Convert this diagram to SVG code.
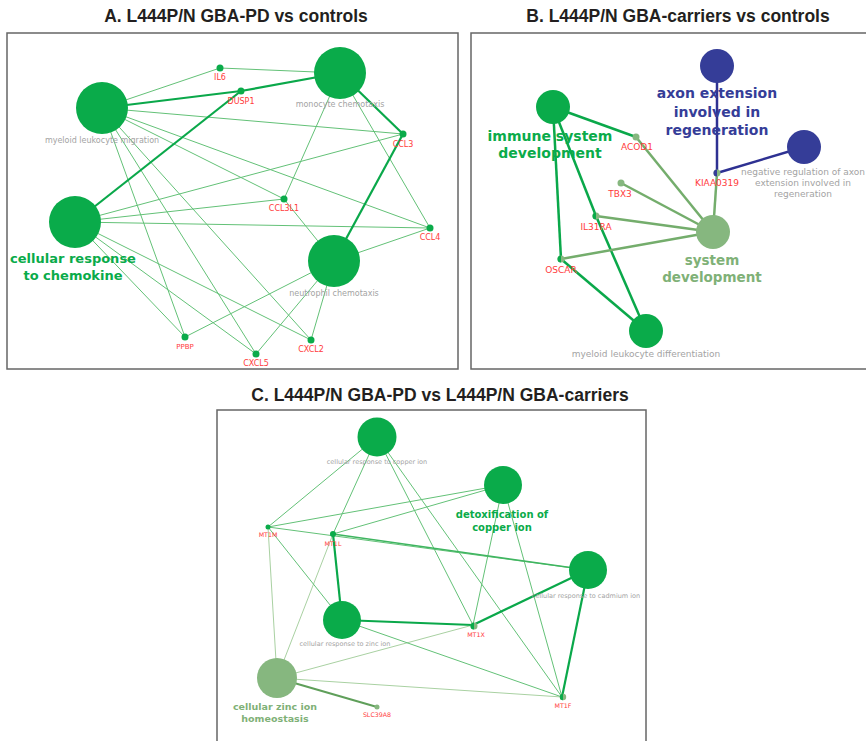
<svg xmlns="http://www.w3.org/2000/svg" width="866" height="741" viewBox="0 0 866 741">
<style>
.title{font-family:"Liberation Sans",Arial,sans-serif;font-weight:bold;font-size:17.5px;fill:#231f20;text-anchor:middle}
.box{fill:#fff;stroke:#666;stroke-width:1.5}
.t{stroke:#63c177;stroke-width:1;fill:none}
.k{stroke:#0aa84a;stroke-width:2.2;fill:none}
.m{stroke:#3fb560;stroke-width:1.5;fill:none}
.bd{stroke:#0aa84a;stroke-width:2.5;fill:none}
.bp{stroke:#74ad6c;stroke-width:2.5;fill:none}
.bn{stroke:#2e3192;stroke-width:2.5;fill:none}
.pl{stroke:#a9d1a2;stroke-width:1;fill:none}
.ps{stroke:#5f9f5a;stroke-width:2;fill:none}
.g{fill:#0aab4a}
.p{fill:#86b77f}
.n{fill:#353d98}
.lbl{font-family:"DejaVu Sans",Verdana,sans-serif;text-anchor:middle}
.gray{fill:#a3a3a3}
.red{fill:#ff3b3b}
.gt{fill:#0aab4a;font-weight:bold}
.pt{fill:#7fb177;font-weight:bold}
.nt{fill:#353d98;font-weight:bold}
</style>

<text class="title" x="236" y="22">A. L444P/N GBA-PD vs controls</text>
<text class="title" x="678" y="22">B. L444P/N GBA-carriers vs controls</text>
<text class="title" x="440" y="401">C. L444P/N GBA-PD vs L444P/N GBA-carriers</text>

<rect class="box" x="7" y="33" width="451" height="336"/>
<rect class="box" x="471" y="33" width="400" height="336"/>
<rect class="box" x="217" y="410" width="429" height="340"/>

<!-- Panel A connectors -->
<g id="edges-A">
<line class="t" x1="102" y1="108" x2="220" y2="68"/>
<line class="t" x1="340" y1="73" x2="220" y2="68"/>
<line class="t" x1="102" y1="108" x2="403" y2="134"/>
<line class="t" x1="75" y1="222" x2="403" y2="134"/>
<line class="t" x1="102" y1="108" x2="284" y2="199"/>
<line class="t" x1="75" y1="222" x2="284" y2="199"/>
<line class="t" x1="340" y1="73" x2="284" y2="199"/>
<line class="t" x1="334" y1="261" x2="284" y2="199"/>
<line class="t" x1="102" y1="108" x2="430" y2="228"/>
<line class="t" x1="75" y1="222" x2="430" y2="228"/>
<line class="t" x1="340" y1="73" x2="430" y2="228"/>
<line class="t" x1="334" y1="261" x2="430" y2="228"/>
<line class="t" x1="102" y1="108" x2="311" y2="340"/>
<line class="t" x1="75" y1="222" x2="311" y2="340"/>
<line class="t" x1="334" y1="261" x2="311" y2="340"/>
<line class="t" x1="102" y1="108" x2="256" y2="354"/>
<line class="t" x1="75" y1="222" x2="256" y2="354"/>
<line class="t" x1="334" y1="261" x2="256" y2="354"/>
<line class="t" x1="102" y1="108" x2="185" y2="337"/>
<line class="t" x1="75" y1="222" x2="185" y2="337"/>
<line class="t" x1="334" y1="261" x2="185" y2="337"/>
<line class="k" x1="102" y1="108" x2="241" y2="91"/>
<line class="k" x1="340" y1="73" x2="241" y2="91"/>
<line class="k" x1="75" y1="222" x2="241" y2="91"/>
<line class="k" x1="340" y1="73" x2="403" y2="134"/>
<line class="k" x1="334" y1="261" x2="403" y2="134"/>
</g>

<g id="A-myeloid-leukocyte-migration"><circle class="g" cx="102" cy="108" r="26"/><text class="lbl gray" x="102" y="143" font-size="8">myeloid leukocyte migration</text></g>
<g id="A-monocyte-chemotaxis"><circle class="g" cx="340" cy="73" r="26"/><text class="lbl gray" x="340" y="107" font-size="8">monocyte chemotaxis</text></g>
<g id="A-cellular-response-to-chemokine"><circle class="g" cx="75" cy="222" r="26"/><text class="lbl gt" x="73" y="263" font-size="13">cellular response</text><text class="lbl gt" x="73" y="280" font-size="13">to chemokine</text></g>
<g id="A-neutrophil-chemotaxis"><circle class="g" cx="334" cy="261" r="26"/><text class="lbl gray" x="334" y="296" font-size="8">neutrophil chemotaxis</text></g>
<g id="A-IL6"><circle class="g" cx="220" cy="68" r="3.5"/><text class="lbl red" x="220" y="80" font-size="8">IL6</text></g>
<g id="A-DUSP1"><circle class="g" cx="241" cy="91" r="3.5"/><text class="lbl red" x="241" y="104" font-size="8">DUSP1</text></g>
<g id="A-CCL3"><circle class="g" cx="403" cy="134" r="3.5"/><text class="lbl red" x="403" y="147" font-size="8">CCL3</text></g>
<g id="A-CCL3L1"><circle class="g" cx="284" cy="199" r="3.5"/><text class="lbl red" x="284" y="211" font-size="8">CCL3L1</text></g>
<g id="A-CCL4"><circle class="g" cx="430" cy="228" r="3.5"/><text class="lbl red" x="430" y="240" font-size="8">CCL4</text></g>
<g id="A-CXCL2"><circle class="g" cx="311" cy="340" r="3.5"/><text class="lbl red" x="311" y="352" font-size="8">CXCL2</text></g>
<g id="A-CXCL5"><circle class="g" cx="256" cy="354" r="3.5"/><text class="lbl red" x="256" y="366" font-size="8">CXCL5</text></g>
<g id="A-PPBP"><circle class="g" cx="185" cy="337" r="3.5"/><text class="lbl red" x="185" y="349" font-size="7">PPBP</text></g>

<!-- Panel B connectors -->
<g id="edges-B">
<line class="bd" x1="553" y1="107" x2="636" y2="137"/>
<line class="bd" x1="553" y1="107" x2="561" y2="259"/>
<line class="bd" x1="553" y1="107" x2="596" y2="216"/>
<line class="bd" x1="596" y1="216" x2="646" y2="331"/>
<line class="bd" x1="561" y1="259" x2="646" y2="331"/>
<line class="bp" x1="636" y1="137" x2="713" y2="232"/>
<line class="bp" x1="621" y1="183" x2="713" y2="232"/>
<line class="bp" x1="596" y1="216" x2="713" y2="232"/>
<line class="bp" x1="561" y1="259" x2="713" y2="232"/>
<line class="bp" x1="717" y1="173" x2="713" y2="232"/>
<line class="bn" x1="717" y1="173" x2="717" y2="66"/>
<line class="bn" x1="717" y1="173" x2="804" y2="147"/>
</g>

<g id="B-immune-system-development"><circle class="g" cx="553" cy="107" r="17"/><text class="lbl gt" x="550" y="141" font-size="14">immune system</text><text class="lbl gt" x="550" y="158" font-size="14">development</text></g>
<g id="B-axon-extension"><circle class="n" cx="717" cy="66" r="17"/><text class="lbl nt" x="717" y="98" font-size="14">axon extension</text><text class="lbl nt" x="717" y="117" font-size="14">involved in</text><text class="lbl nt" x="717" y="135" font-size="14">regeneration</text></g>
<g id="B-negative-regulation"><circle class="n" cx="804" cy="147" r="17"/><text class="lbl gray" x="803" y="175" font-size="9">negative regulation of axon</text><text class="lbl gray" x="803" y="185.5" font-size="9">extension involved in</text><text class="lbl gray" x="803" y="196.5" font-size="9">regeneration</text></g>
<g id="B-system-development"><circle class="p" cx="713" cy="232" r="17"/><text class="lbl pt" x="712" y="265" font-size="13.5">system</text><text class="lbl pt" x="712" y="282" font-size="13.5">development</text></g>
<g id="B-myeloid-leukocyte-differentiation"><circle class="g" cx="646" cy="331" r="17"/><text class="lbl gray" x="646" y="357" font-size="9">myeloid leukocyte differentiation</text></g>
<g id="B-ACOD1"><circle class="p" cx="636" cy="137" r="3.5"/><text class="lbl red" x="637" y="150" font-size="9">ACOD1</text></g>
<g id="B-TBX3"><circle class="p" cx="621" cy="183" r="3.5"/><text class="lbl red" x="620" y="197" font-size="9">TBX3</text></g>
<g id="B-KIAA0319"><circle class="p" cx="717" cy="173" r="3.5"/><path class="n" d="M717,169.5 A3.5,3.5 0 0 0 717,176.5 Z"/><text class="lbl red" x="717" y="186" font-size="9">KIAA0319</text></g>
<g id="B-IL31RA"><circle class="p" cx="596" cy="216" r="3.5"/><path class="g" d="M596,212.5 A3.5,3.5 0 0 0 596,219.5 Z"/><text class="lbl red" x="596" y="230" font-size="9">IL31RA</text></g>
<g id="B-OSCAR"><circle class="p" cx="561" cy="259" r="3.5"/><path class="g" d="M561,255.5 A3.5,3.5 0 0 0 561,262.5 Z"/><text class="lbl red" x="561" y="273" font-size="9">OSCAR</text></g>

<!-- Panel C connectors -->
<g id="edges-C">
<line class="pl" x1="277" y1="678" x2="268" y2="527"/>
<line class="pl" x1="277" y1="678" x2="333" y2="534"/>
<line class="pl" x1="277" y1="678" x2="473" y2="625"/>
<line class="pl" x1="277" y1="678" x2="562" y2="697"/>
<line class="ps" x1="277" y1="678" x2="377" y2="707"/>
<line class="t" x1="377" y1="437" x2="268" y2="527"/>
<line class="t" x1="377" y1="437" x2="333" y2="534"/>
<line class="t" x1="377" y1="437" x2="473" y2="625"/>
<line class="t" x1="377" y1="437" x2="562" y2="697"/>
<line class="t" x1="503" y1="485" x2="268" y2="527"/>
<line class="t" x1="503" y1="485" x2="333" y2="534"/>
<line class="t" x1="503" y1="485" x2="473" y2="625"/>
<line class="t" x1="503" y1="485" x2="562" y2="697"/>
<line class="t" x1="588" y1="570" x2="268" y2="527"/>
<line class="m" x1="588" y1="570" x2="333" y2="534"/>
<line class="k" x1="588" y1="570" x2="473" y2="625"/>
<line class="k" x1="588" y1="570" x2="562" y2="697"/>
<line class="t" x1="342" y1="620" x2="268" y2="527"/>
<line class="k" x1="342" y1="620" x2="333" y2="534"/>
<line class="k" x1="342" y1="620" x2="473" y2="625"/>
<line class="t" x1="342" y1="620" x2="562" y2="697"/>
</g>

<g id="C-cellular-response-to-copper-ion"><circle class="g" cx="377" cy="437" r="19.5"/><text class="lbl gray" x="377" y="464" font-size="6.5">cellular response to copper ion</text></g>
<g id="C-detoxification-of-copper-ion"><circle class="g" cx="503" cy="485" r="19"/><text class="lbl gt" x="502" y="518" font-size="10">detoxification of</text><text class="lbl gt" x="502" y="531" font-size="10">copper ion</text></g>
<g id="C-cellular-response-to-cadmium-ion"><circle class="g" cx="588" cy="570" r="19"/><text class="lbl gray" x="586" y="598" font-size="6.5">cellular response to cadmium ion</text></g>
<g id="C-cellular-response-to-zinc-ion"><circle class="g" cx="342" cy="620" r="19"/><text class="lbl gray" x="345" y="646" font-size="6.5">cellular response to zinc ion</text></g>
<g id="C-cellular-zinc-ion-homeostasis"><circle class="p" cx="277" cy="678" r="20"/><text class="lbl pt" x="275" y="709.5" font-size="9.5">cellular zinc ion</text><text class="lbl pt" x="275" y="721.5" font-size="9.5">homeostasis</text></g>
<g id="C-MT1M"><circle class="g" cx="268" cy="527" r="2.5"/><text class="lbl red" x="268" y="537" font-size="6.3">MT1M</text></g>
<g id="C-MT1L"><circle class="g" cx="333" cy="534" r="3"/><text class="lbl red" x="333" y="546" font-size="6.3">MT1L</text></g>
<g id="C-MT1X"><circle class="p" cx="474" cy="626" r="3.5"/><path class="g" d="M474,622.5 A3.5,3.5 0 0 0 474,629.5 Z"/><text class="lbl red" x="476" y="637" font-size="6.3">MT1X</text></g>
<g id="C-SLC39A8"><circle class="p" cx="377" cy="707" r="2.5"/><text class="lbl red" x="377" y="717" font-size="6.3">SLC39A8</text></g>
<g id="C-MT1F"><circle class="p" cx="563" cy="697" r="3.2"/><path class="g" d="M563,693.8 A3.2,3.2 0 0 0 563,700.2 Z"/><text class="lbl red" x="563" y="708" font-size="6.3">MT1F</text></g>
</svg>
